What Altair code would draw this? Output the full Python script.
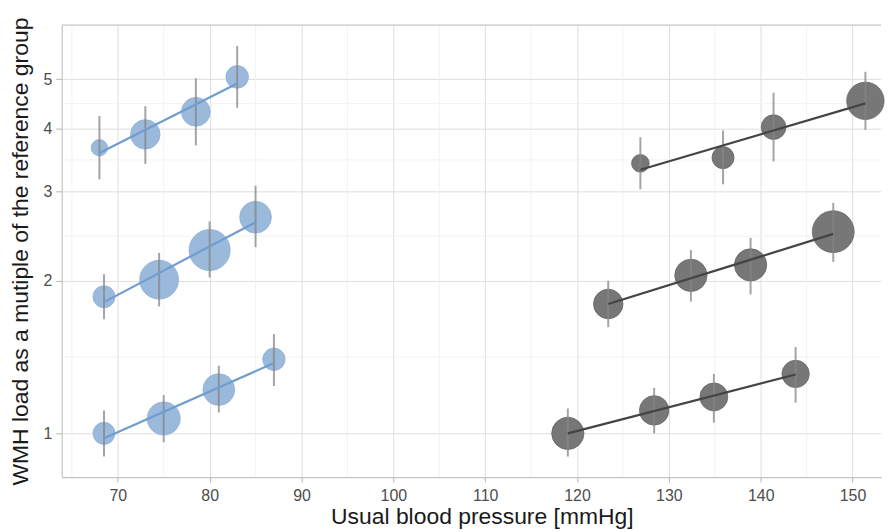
import math
import numpy as np
import pandas as pd
import altair as alt

# ---- data ----
bp_type = ["diastolic"] * 12 + ["systolic"] * 12
tier = (["low"] * 4 + ["mid"] * 4 + ["high"] * 4) * 2
bp = [68.5, 75.0, 81.0, 87.0,
      68.5, 74.5, 80.0, 85.0,
      68.0, 73.0, 78.5, 83.0,
      119.0, 128.4, 134.9, 143.8,
      123.4, 132.4, 138.9, 147.9,
      126.9, 135.9, 141.4, 151.4]
wmh = [1.00, 1.07, 1.22, 1.40,
       1.86, 2.01, 2.30, 2.67,
       3.66, 3.89, 4.31, 5.05,
       1.00, 1.11, 1.18, 1.31,
       1.80, 2.05, 2.15, 2.50,
       3.41, 3.50, 4.02, 4.53]
lo = [0.90, 0.96, 1.10, 1.24,
      1.68, 1.78, 2.03, 2.33,
      3.17, 3.40, 3.70, 4.39,
      0.90, 1.00, 1.05, 1.15,
      1.62, 1.82, 1.88, 2.18,
      3.03, 3.10, 3.44, 3.97]
hi = [1.11, 1.19, 1.36, 1.57,
      2.06, 2.27, 2.62, 3.08,
      4.23, 4.42, 5.02, 5.81,
      1.12, 1.23, 1.31, 1.48,
      2.00, 2.30, 2.43, 2.85,
      3.84, 3.96, 4.70, 5.17]
n = [156, 353, 324, 161,
     156, 484, 543, 324,
     86, 279, 266, 164,
     335, 279, 250, 240,
     279, 335, 335, 562,
     100, 156, 196, 449]

x_ticks = [70, 80, 90, 100, 110, 120, 130, 140, 150]
x_minor = [65, 75, 85, 95, 105, 115, 125, 135, 145]
y_ticks = [1, 2, 3, 4, 5]
y_minor = [math.sqrt(2), math.sqrt(6), math.sqrt(12), math.sqrt(20)]

df = pd.DataFrame({"bp_type": bp_type, "tier": tier, "bp": bp, "wmh": wmh,
                   "lo": lo, "hi": hi, "n": n})
df["key"] = df["bp_type"] + "-" + df["tier"]

# least-squares fit on the log scale for each group
rows = []
for key, g in df.groupby("key"):
    slope, icpt = np.polyfit(g["bp"], np.log10(g["wmh"]), 1)
    for xv in (g["bp"].min(), g["bp"].max()):
        rows.append({"key": key, "bp_type": g["bp_type"].iloc[0], "bp": xv,
                     "wmh": 10 ** (icpt + slope * xv)})
fit = pd.DataFrame(rows)

W, H = 823, 454
FONT = "Liberation Sans"

xscale = alt.Scale(domain=[63.9, 153.1], nice=False, zero=False)
yscale = alt.Scale(type="log", domain=[0.82, 6.39], nice=False)

xaxis = alt.Axis(values=x_ticks, title="Usual blood pressure [mmHg]", grid=True,
                 gridColor="#dedede", gridWidth=1, domainColor="#c4c4c4", domainWidth=1.2,
                 tickColor="#b3b3b3", tickSize=5, labelPadding=6, labelFontSize=16,
                 labelColor="#4d4d4d", labelFont=FONT, titleFont=FONT, titleFontSize=23,
                 titleFontWeight="normal", titleColor="#1a1a1a", titleX=422, titleY=47,
                 titleBaseline="alphabetic", titleAlign="center")
yaxis = alt.Axis(values=y_ticks, title="WMH load as a mutiple of the reference group",
                 grid=True, gridColor="#dedede", gridWidth=1, domainColor="#c4c4c4",
                 domainWidth=1.2, tickColor="#b3b3b3", tickSize=6, labelPadding=4,
                 labelFontSize=16, labelColor="#4d4d4d", labelFont=FONT, titleFont=FONT,
                 titleFontSize=23, titleFontWeight="normal", titleColor="#1a1a1a",
                 titleX=-41, titleY=H / 2, titleBaseline="middle", titleAlign="center",
                 format="d")

X = alt.X("bp:Q", scale=xscale, axis=xaxis)
Y = alt.Y("wmh:Q", scale=yscale, axis=yaxis)

minor_x = alt.Chart(pd.DataFrame({"bp": x_minor})).mark_rule(
    color="#efefef", strokeWidth=0.8).encode(x=X)
minor_y = alt.Chart(pd.DataFrame({"wmh": y_minor})).mark_rule(
    color="#efefef", strokeWidth=0.8).encode(y=Y)

is_dia = "datum.bp_type == 'diastolic'"

points = alt.Chart(df).mark_circle(opacity=1, strokeWidth=0.8).encode(
    x=X, y=Y,
    size=alt.Size("n:Q", scale=alt.Scale(domain=[0, 562], range=[0, 1765]), legend=None),
    fill=alt.condition(is_dia, alt.value("#9bb9db"), alt.value("#777777")),
    stroke=alt.condition(is_dia, alt.value("#8fb0d6"), alt.value("#666666")),
)

errbars = alt.Chart(df).mark_rule(color="#858585", opacity=0.75, strokeWidth=2).encode(
    x=X, y=alt.Y("lo:Q", scale=yscale, axis=yaxis), y2="hi:Q")

lines = alt.Chart(fit).mark_line(strokeWidth=2.2).encode(
    x=X, y=Y, detail="key:N",
    color=alt.condition(is_dia, alt.value("#6f9dd0"), alt.value("#444444")),
)

top_border = alt.Chart(pd.DataFrame({"v": [0]})).mark_rule(
    color="#c4c4c4", strokeWidth=1.2).encode(
    x=alt.value(0), x2=alt.value(W), y=alt.value(0))

chart = alt.layer(minor_x, minor_y, points, errbars, lines, top_border).properties(
    width=W, height=H,
    autosize=alt.AutoSizeParams(type="none"),
    padding={"left": 54, "top": 16, "right": 4, "bottom": 54},
    background="white",
).configure_view(stroke=None)

chart.save("out.html", embed_options={"renderer": "svg", "actions": False})
